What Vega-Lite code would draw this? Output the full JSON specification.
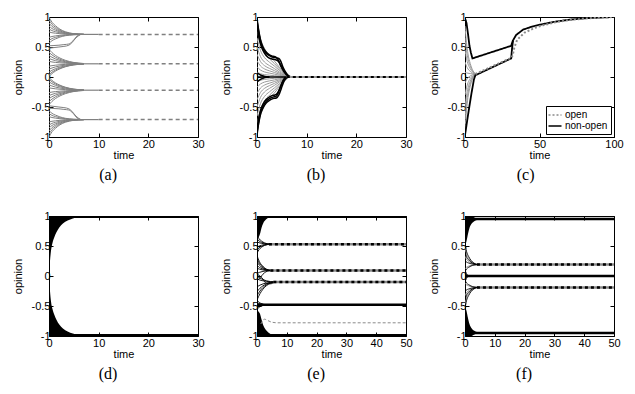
{
"$schema":"https://vega.github.io/schema/vega-lite/v6.json",
"autosize":{"type":"pad"},
"padding":{"left":11,"top":10,"right":0,"bottom":0},
"background":"white",
"config":{
 "view":{"stroke":"#000","strokeWidth":1},
 "font":"Liberation Sans",
 "axis":{"domain":false,"grid":false,"ticks":true,"tickColor":"#000","tickSize":-4,"tickWidth":1,"labelFlush":false,"labelOverlap":false,"labelFont":"Liberation Sans","labelFontSize":11,"labelColor":"#000","titleFont":"Liberation Sans","titleFontSize":11,"titleFontWeight":"normal","titleColor":"#000"},
 "axisX":{"labelPadding":5,"titlePadding":0},
 "axisY":{"labelPadding":3,"titlePadding":8},
 "title":{"font":"Liberation Serif","fontSize":16,"fontWeight":"normal","color":"#000","offset":7,"frame":"bounds"},
 "legend":{"orient":"bottom-right","offset":3,"fillColor":"#fff","strokeColor":"#000","padding":3,"cornerRadius":0,"labelFont":"Liberation Sans","labelFontSize":10,"labelColor":"#000","symbolType":"M-1.3,0H1.3","symbolSize":100,"symbolStrokeWidth":1.5,"rowPadding":0,"labelOffset":4}
},
"datasets":{
"a1":[
{"i":1,"t":0,"y":1},{"i":1,"t":0.6,"y":0.913},{"i":1,"t":1.3,"y":0.855},{"i":1,"t":2.2,"y":0.797},{"i":1,"t":3.3,"y":0.754},{"i":1,"t":5,"y":0.722},{"i":1,"t":7,"y":0.71},
{"i":2,"t":0,"y":0.95},{"i":2,"t":0.6,"y":0.878},{"i":2,"t":1.3,"y":0.83},{"i":2,"t":2.2,"y":0.782},{"i":2,"t":3.3,"y":0.746},{"i":2,"t":5,"y":0.72},{"i":2,"t":7,"y":0.71},
{"i":3,"t":0,"y":0.9},{"i":3,"t":0.6,"y":0.843},{"i":3,"t":1.3,"y":0.805},{"i":3,"t":2.2,"y":0.767},{"i":3,"t":3.3,"y":0.739},{"i":3,"t":5,"y":0.718},{"i":3,"t":7,"y":0.71},
{"i":4,"t":0,"y":0.85},{"i":4,"t":0.6,"y":0.808},{"i":4,"t":1.3,"y":0.78},{"i":4,"t":2.2,"y":0.752},{"i":4,"t":3.3,"y":0.731},{"i":4,"t":5,"y":0.716},{"i":4,"t":7,"y":0.71},
{"i":5,"t":0,"y":0.8},{"i":5,"t":0.6,"y":0.773},{"i":5,"t":1.3,"y":0.755},{"i":5,"t":2.2,"y":0.737},{"i":5,"t":3.3,"y":0.724},{"i":5,"t":5,"y":0.714},{"i":5,"t":7,"y":0.71},
{"i":6,"t":0,"y":0.75},{"i":6,"t":0.6,"y":0.738},{"i":6,"t":1.3,"y":0.73},{"i":6,"t":2.2,"y":0.722},{"i":6,"t":3.3,"y":0.716},{"i":6,"t":5,"y":0.712},{"i":6,"t":7,"y":0.71},
{"i":7,"t":0,"y":0.66},{"i":7,"t":0.6,"y":0.675},{"i":7,"t":1.3,"y":0.685},{"i":7,"t":2.2,"y":0.695},{"i":7,"t":3.3,"y":0.703},{"i":7,"t":5,"y":0.708},{"i":7,"t":7,"y":0.71},
{"i":8,"t":0,"y":0.61},{"i":8,"t":0.6,"y":0.64},{"i":8,"t":1.3,"y":0.66},{"i":8,"t":2.2,"y":0.68},{"i":8,"t":3.3,"y":0.695},{"i":8,"t":5,"y":0.706},{"i":8,"t":7,"y":0.71},
{"i":9,"t":0,"y":0.56},{"i":9,"t":0.6,"y":0.605},{"i":9,"t":1.3,"y":0.635},{"i":9,"t":2.2,"y":0.665},{"i":9,"t":3.3,"y":0.688},{"i":9,"t":5,"y":0.704},{"i":9,"t":7,"y":0.71},
{"i":10,"t":0,"y":0.52},{"i":10,"t":1,"y":0.525},{"i":10,"t":2,"y":0.53},{"i":10,"t":3,"y":0.54},{"i":10,"t":4,"y":0.55},{"i":10,"t":4.8,"y":0.6},{"i":10,"t":5.6,"y":0.68},{"i":10,"t":6.5,"y":0.71},
{"i":11,"t":0,"y":0.48},{"i":11,"t":1,"y":0.49},{"i":11,"t":2,"y":0.5},{"i":11,"t":3,"y":0.51},{"i":11,"t":4,"y":0.53},{"i":11,"t":4.6,"y":0.57},{"i":11,"t":5.4,"y":0.65},{"i":11,"t":6.4,"y":0.71},
{"i":12,"t":0,"y":0.46},{"i":12,"t":0.6,"y":0.407},{"i":12,"t":1.3,"y":0.359},{"i":12,"t":2.2,"y":0.316},{"i":12,"t":3.3,"y":0.278},{"i":12,"t":5,"y":0.242},{"i":12,"t":7,"y":0.225},
{"i":13,"t":0,"y":0.41},{"i":13,"t":0.6,"y":0.368},{"i":13,"t":1.3,"y":0.33},{"i":13,"t":2.2,"y":0.296},{"i":13,"t":3.3,"y":0.266},{"i":13,"t":5,"y":0.237},{"i":13,"t":7,"y":0.224},
{"i":14,"t":0,"y":0.36},{"i":14,"t":0.6,"y":0.329},{"i":14,"t":1.3,"y":0.301},{"i":14,"t":2.2,"y":0.276},{"i":14,"t":3.3,"y":0.254},{"i":14,"t":5,"y":0.233},{"i":14,"t":7,"y":0.223},
{"i":15,"t":0,"y":0.31},{"i":15,"t":0.6,"y":0.29},{"i":15,"t":1.3,"y":0.272},{"i":15,"t":2.2,"y":0.256},{"i":15,"t":3.3,"y":0.242},{"i":15,"t":5,"y":0.228},{"i":15,"t":7,"y":0.222},
{"i":16,"t":0,"y":0.26},{"i":16,"t":0.6,"y":0.251},{"i":16,"t":1.3,"y":0.243},{"i":16,"t":2.2,"y":0.236},{"i":16,"t":3.3,"y":0.23},{"i":16,"t":5,"y":0.224},{"i":16,"t":7,"y":0.221},
{"i":17,"t":0,"y":0.18},{"i":17,"t":0.6,"y":0.189},{"i":17,"t":1.3,"y":0.197},{"i":17,"t":2.2,"y":0.204},{"i":17,"t":3.3,"y":0.21},{"i":17,"t":5,"y":0.216},{"i":17,"t":7,"y":0.219},
{"i":18,"t":0,"y":0.13},{"i":18,"t":0.6,"y":0.15},{"i":18,"t":1.3,"y":0.168},{"i":18,"t":2.2,"y":0.184},{"i":18,"t":3.3,"y":0.198},{"i":18,"t":5,"y":0.212},{"i":18,"t":7,"y":0.218},
{"i":19,"t":0,"y":0.08},{"i":19,"t":0.6,"y":0.111},{"i":19,"t":1.3,"y":0.139},{"i":19,"t":2.2,"y":0.164},{"i":19,"t":3.3,"y":0.186},{"i":19,"t":5,"y":0.207},{"i":19,"t":7,"y":0.217},
{"i":20,"t":0,"y":0.04},{"i":20,"t":0.6,"y":0.08},{"i":20,"t":1.3,"y":0.116},{"i":20,"t":2.2,"y":0.148},{"i":20,"t":3.3,"y":0.177},{"i":20,"t":5,"y":0.204},{"i":20,"t":7,"y":0.216},
{"i":21,"t":0,"y":0.01},{"i":21,"t":0.6,"y":0.056},{"i":21,"t":1.3,"y":0.098},{"i":21,"t":2.2,"y":0.136},{"i":21,"t":3.3,"y":0.17},{"i":21,"t":5,"y":0.201},{"i":21,"t":7,"y":0.216},
{"i":51,"t":0,"y":-1},{"i":51,"t":0.6,"y":-0.913},{"i":51,"t":1.3,"y":-0.855},{"i":51,"t":2.2,"y":-0.797},{"i":51,"t":3.3,"y":-0.754},{"i":51,"t":5,"y":-0.722},{"i":51,"t":7,"y":-0.71},
{"i":52,"t":0,"y":-0.95},{"i":52,"t":0.6,"y":-0.878},{"i":52,"t":1.3,"y":-0.83},{"i":52,"t":2.2,"y":-0.782},{"i":52,"t":3.3,"y":-0.746},{"i":52,"t":5,"y":-0.72},{"i":52,"t":7,"y":-0.71},
{"i":53,"t":0,"y":-0.9},{"i":53,"t":0.6,"y":-0.843},{"i":53,"t":1.3,"y":-0.805},{"i":53,"t":2.2,"y":-0.767},{"i":53,"t":3.3,"y":-0.739},{"i":53,"t":5,"y":-0.718},{"i":53,"t":7,"y":-0.71},
{"i":54,"t":0,"y":-0.85},{"i":54,"t":0.6,"y":-0.808},{"i":54,"t":1.3,"y":-0.78},{"i":54,"t":2.2,"y":-0.752},{"i":54,"t":3.3,"y":-0.731},{"i":54,"t":5,"y":-0.716},{"i":54,"t":7,"y":-0.71},
{"i":55,"t":0,"y":-0.8},{"i":55,"t":0.6,"y":-0.773},{"i":55,"t":1.3,"y":-0.755},{"i":55,"t":2.2,"y":-0.737},{"i":55,"t":3.3,"y":-0.724},{"i":55,"t":5,"y":-0.714},{"i":55,"t":7,"y":-0.71},
{"i":56,"t":0,"y":-0.75},{"i":56,"t":0.6,"y":-0.738},{"i":56,"t":1.3,"y":-0.73},{"i":56,"t":2.2,"y":-0.722},{"i":56,"t":3.3,"y":-0.716},{"i":56,"t":5,"y":-0.712},{"i":56,"t":7,"y":-0.71},
{"i":57,"t":0,"y":-0.66},{"i":57,"t":0.6,"y":-0.675},{"i":57,"t":1.3,"y":-0.685},{"i":57,"t":2.2,"y":-0.695},{"i":57,"t":3.3,"y":-0.703},{"i":57,"t":5,"y":-0.708},{"i":57,"t":7,"y":-0.71},
{"i":58,"t":0,"y":-0.61},{"i":58,"t":0.6,"y":-0.64},{"i":58,"t":1.3,"y":-0.66},{"i":58,"t":2.2,"y":-0.68},{"i":58,"t":3.3,"y":-0.695},{"i":58,"t":5,"y":-0.706},{"i":58,"t":7,"y":-0.71},
{"i":59,"t":0,"y":-0.56},{"i":59,"t":0.6,"y":-0.605},{"i":59,"t":1.3,"y":-0.635},{"i":59,"t":2.2,"y":-0.665},{"i":59,"t":3.3,"y":-0.688},{"i":59,"t":5,"y":-0.704},{"i":59,"t":7,"y":-0.71},
{"i":60,"t":0,"y":-0.52},{"i":60,"t":1,"y":-0.525},{"i":60,"t":2,"y":-0.53},{"i":60,"t":3,"y":-0.54},{"i":60,"t":4,"y":-0.55},{"i":60,"t":4.8,"y":-0.6},{"i":60,"t":5.6,"y":-0.68},{"i":60,"t":6.5,"y":-0.71},
{"i":61,"t":0,"y":-0.48},{"i":61,"t":1,"y":-0.49},{"i":61,"t":2,"y":-0.5},{"i":61,"t":3,"y":-0.51},{"i":61,"t":4,"y":-0.53},{"i":61,"t":4.6,"y":-0.57},{"i":61,"t":5.4,"y":-0.65},{"i":61,"t":6.4,"y":-0.71},
{"i":62,"t":0,"y":-0.46},{"i":62,"t":0.6,"y":-0.407},{"i":62,"t":1.3,"y":-0.359},{"i":62,"t":2.2,"y":-0.316},{"i":62,"t":3.3,"y":-0.278},{"i":62,"t":5,"y":-0.242},{"i":62,"t":7,"y":-0.225},
{"i":63,"t":0,"y":-0.41},{"i":63,"t":0.6,"y":-0.368},{"i":63,"t":1.3,"y":-0.33},{"i":63,"t":2.2,"y":-0.296},{"i":63,"t":3.3,"y":-0.266},{"i":63,"t":5,"y":-0.237},{"i":63,"t":7,"y":-0.224},
{"i":64,"t":0,"y":-0.36},{"i":64,"t":0.6,"y":-0.329},{"i":64,"t":1.3,"y":-0.301},{"i":64,"t":2.2,"y":-0.276},{"i":64,"t":3.3,"y":-0.254},{"i":64,"t":5,"y":-0.233},{"i":64,"t":7,"y":-0.223},
{"i":65,"t":0,"y":-0.31},{"i":65,"t":0.6,"y":-0.29},{"i":65,"t":1.3,"y":-0.272},{"i":65,"t":2.2,"y":-0.256},{"i":65,"t":3.3,"y":-0.242},{"i":65,"t":5,"y":-0.228},{"i":65,"t":7,"y":-0.222},
{"i":66,"t":0,"y":-0.26},{"i":66,"t":0.6,"y":-0.251},{"i":66,"t":1.3,"y":-0.243},{"i":66,"t":2.2,"y":-0.236},{"i":66,"t":3.3,"y":-0.23},{"i":66,"t":5,"y":-0.224},{"i":66,"t":7,"y":-0.221},
{"i":67,"t":0,"y":-0.18},{"i":67,"t":0.6,"y":-0.189},{"i":67,"t":1.3,"y":-0.197},{"i":67,"t":2.2,"y":-0.204},{"i":67,"t":3.3,"y":-0.21},{"i":67,"t":5,"y":-0.216},{"i":67,"t":7,"y":-0.219},
{"i":68,"t":0,"y":-0.13},{"i":68,"t":0.6,"y":-0.15},{"i":68,"t":1.3,"y":-0.168},{"i":68,"t":2.2,"y":-0.184},{"i":68,"t":3.3,"y":-0.198},{"i":68,"t":5,"y":-0.212},{"i":68,"t":7,"y":-0.218},
{"i":69,"t":0,"y":-0.08},{"i":69,"t":0.6,"y":-0.111},{"i":69,"t":1.3,"y":-0.139},{"i":69,"t":2.2,"y":-0.164},{"i":69,"t":3.3,"y":-0.186},{"i":69,"t":5,"y":-0.207},{"i":69,"t":7,"y":-0.217},
{"i":70,"t":0,"y":-0.04},{"i":70,"t":0.6,"y":-0.08},{"i":70,"t":1.3,"y":-0.116},{"i":70,"t":2.2,"y":-0.148},{"i":70,"t":3.3,"y":-0.177},{"i":70,"t":5,"y":-0.204},{"i":70,"t":7,"y":-0.216},
{"i":71,"t":0,"y":-0.01},{"i":71,"t":0.6,"y":-0.056},{"i":71,"t":1.3,"y":-0.098},{"i":71,"t":2.2,"y":-0.136},{"i":71,"t":3.3,"y":-0.17},{"i":71,"t":5,"y":-0.201},{"i":71,"t":7,"y":-0.216}
],
"a2":[
{"i":1,"t":5,"y":0.71},{"i":1,"t":10,"y":0.71},{"i":2,"t":7,"y":0.22},{"i":2,"t":10,"y":0.22},{"i":3,"t":7,"y":-0.22},{"i":3,"t":10,"y":-0.22},{"i":4,"t":5,"y":-0.71},{"i":4,"t":10,"y":-0.71}
],
"a3":[
{"i":1,"t":10,"y":0.71},{"i":1,"t":30,"y":0.71},{"i":2,"t":10,"y":0.22},{"i":2,"t":30,"y":0.22},{"i":3,"t":10,"y":-0.22},{"i":3,"t":30,"y":-0.22},{"i":4,"t":10,"y":-0.71},{"i":4,"t":30,"y":-0.71}
],
"b1":[
{"i":1,"t":0,"y":0.95},{"i":1,"t":0.7,"y":0.646},{"i":1,"t":1.5,"y":0.475},{"i":1,"t":2.5,"y":0.361},{"i":1,"t":3.5,"y":0.266},{"i":1,"t":4.5,"y":0.162},{"i":1,"t":5.5,"y":0.067},{"i":1,"t":6.5,"y":0},
{"i":2,"t":0,"y":0.8},{"i":2,"t":0.7,"y":0.544},{"i":2,"t":1.5,"y":0.4},{"i":2,"t":2.5,"y":0.304},{"i":2,"t":3.5,"y":0.224},{"i":2,"t":4.5,"y":0.136},{"i":2,"t":5.5,"y":0.056},{"i":2,"t":6.5,"y":0},
{"i":3,"t":0,"y":0.65},{"i":3,"t":0.7,"y":0.442},{"i":3,"t":1.5,"y":0.325},{"i":3,"t":2.5,"y":0.247},{"i":3,"t":3.5,"y":0.182},{"i":3,"t":4.5,"y":0.111},{"i":3,"t":5.5,"y":0.046},{"i":3,"t":6.5,"y":0},
{"i":4,"t":0,"y":0.5},{"i":4,"t":0.7,"y":0.34},{"i":4,"t":1.5,"y":0.25},{"i":4,"t":2.5,"y":0.19},{"i":4,"t":3.5,"y":0.14},{"i":4,"t":4.5,"y":0.085},{"i":4,"t":5.5,"y":0.035},{"i":4,"t":6.5,"y":0},
{"i":5,"t":0,"y":0.38},{"i":5,"t":0.7,"y":0.258},{"i":5,"t":1.5,"y":0.19},{"i":5,"t":2.5,"y":0.144},{"i":5,"t":3.5,"y":0.106},{"i":5,"t":4.5,"y":0.065},{"i":5,"t":5.5,"y":0.027},{"i":5,"t":6.5,"y":0},
{"i":6,"t":0,"y":0.27},{"i":6,"t":0.7,"y":0.184},{"i":6,"t":1.5,"y":0.135},{"i":6,"t":2.5,"y":0.103},{"i":6,"t":3.5,"y":0.076},{"i":6,"t":4.5,"y":0.046},{"i":6,"t":5.5,"y":0.019},{"i":6,"t":6.5,"y":0},
{"i":7,"t":0,"y":0.17},{"i":7,"t":0.7,"y":0.116},{"i":7,"t":1.5,"y":0.085},{"i":7,"t":2.5,"y":0.065},{"i":7,"t":3.5,"y":0.048},{"i":7,"t":4.5,"y":0.029},{"i":7,"t":5.5,"y":0.012},{"i":7,"t":6.5,"y":0},
{"i":8,"t":0,"y":0.08},{"i":8,"t":0.7,"y":0.054},{"i":8,"t":1.5,"y":0.04},{"i":8,"t":2.5,"y":0.03},{"i":8,"t":3.5,"y":0.022},{"i":8,"t":4.5,"y":0.014},{"i":8,"t":5.5,"y":0.006},{"i":8,"t":6.5,"y":0},
{"i":11,"t":0,"y":-0.95},{"i":11,"t":0.7,"y":-0.646},{"i":11,"t":1.5,"y":-0.475},{"i":11,"t":2.5,"y":-0.361},{"i":11,"t":3.5,"y":-0.266},{"i":11,"t":4.5,"y":-0.162},{"i":11,"t":5.5,"y":-0.067},{"i":11,"t":6.5,"y":0},
{"i":12,"t":0,"y":-0.8},{"i":12,"t":0.7,"y":-0.544},{"i":12,"t":1.5,"y":-0.4},{"i":12,"t":2.5,"y":-0.304},{"i":12,"t":3.5,"y":-0.224},{"i":12,"t":4.5,"y":-0.136},{"i":12,"t":5.5,"y":-0.056},{"i":12,"t":6.5,"y":0},
{"i":13,"t":0,"y":-0.65},{"i":13,"t":0.7,"y":-0.442},{"i":13,"t":1.5,"y":-0.325},{"i":13,"t":2.5,"y":-0.247},{"i":13,"t":3.5,"y":-0.182},{"i":13,"t":4.5,"y":-0.111},{"i":13,"t":5.5,"y":-0.046},{"i":13,"t":6.5,"y":0},
{"i":14,"t":0,"y":-0.5},{"i":14,"t":0.7,"y":-0.34},{"i":14,"t":1.5,"y":-0.25},{"i":14,"t":2.5,"y":-0.19},{"i":14,"t":3.5,"y":-0.14},{"i":14,"t":4.5,"y":-0.085},{"i":14,"t":5.5,"y":-0.035},{"i":14,"t":6.5,"y":0},
{"i":15,"t":0,"y":-0.38},{"i":15,"t":0.7,"y":-0.258},{"i":15,"t":1.5,"y":-0.19},{"i":15,"t":2.5,"y":-0.144},{"i":15,"t":3.5,"y":-0.106},{"i":15,"t":4.5,"y":-0.065},{"i":15,"t":5.5,"y":-0.027},{"i":15,"t":6.5,"y":0},
{"i":16,"t":0,"y":-0.27},{"i":16,"t":0.7,"y":-0.184},{"i":16,"t":1.5,"y":-0.135},{"i":16,"t":2.5,"y":-0.103},{"i":16,"t":3.5,"y":-0.076},{"i":16,"t":4.5,"y":-0.046},{"i":16,"t":5.5,"y":-0.019},{"i":16,"t":6.5,"y":0},
{"i":17,"t":0,"y":-0.17},{"i":17,"t":0.7,"y":-0.116},{"i":17,"t":1.5,"y":-0.085},{"i":17,"t":2.5,"y":-0.065},{"i":17,"t":3.5,"y":-0.048},{"i":17,"t":4.5,"y":-0.029},{"i":17,"t":5.5,"y":-0.012},{"i":17,"t":6.5,"y":0},
{"i":18,"t":0,"y":-0.08},{"i":18,"t":0.7,"y":-0.054},{"i":18,"t":1.5,"y":-0.04},{"i":18,"t":2.5,"y":-0.03},{"i":18,"t":3.5,"y":-0.022},{"i":18,"t":4.5,"y":-0.014},{"i":18,"t":5.5,"y":-0.006},{"i":18,"t":6.5,"y":0}
],
"b2":[
{"i":1,"t":0,"y":0.97},{"i":1,"t":0.3,"y":0.8},{"i":1,"t":0.7,"y":0.62},{"i":1,"t":1.2,"y":0.5},{"i":1,"t":1.8,"y":0.42},{"i":1,"t":2.5,"y":0.37},{"i":1,"t":3.2,"y":0.345},{"i":1,"t":3.8,"y":0.33},{"i":1,"t":4.3,"y":0.28},{"i":1,"t":4.8,"y":0.18},{"i":1,"t":5.4,"y":0.09},{"i":1,"t":6.2,"y":0.02},{"i":1,"t":7,"y":0},
{"i":2,"t":0,"y":0.94},{"i":2,"t":0.3,"y":0.77},{"i":2,"t":0.7,"y":0.6},{"i":2,"t":1.2,"y":0.48},{"i":2,"t":1.8,"y":0.4},{"i":2,"t":2.5,"y":0.355},{"i":2,"t":3.2,"y":0.33},{"i":2,"t":3.8,"y":0.32},{"i":2,"t":4.4,"y":0.31},{"i":2,"t":4.8,"y":0.26},{"i":2,"t":5.2,"y":0.17},{"i":2,"t":5.7,"y":0.09},{"i":2,"t":6.4,"y":0.02},{"i":2,"t":7.2,"y":0},
{"i":3,"t":0,"y":0.85},{"i":3,"t":0.4,"y":0.65},{"i":3,"t":0.9,"y":0.5},{"i":3,"t":1.5,"y":0.4},{"i":3,"t":2.2,"y":0.33},{"i":3,"t":3,"y":0.3},{"i":3,"t":3.6,"y":0.29},{"i":3,"t":4.2,"y":0.27},{"i":3,"t":4.8,"y":0.2},{"i":3,"t":5.3,"y":0.12},{"i":3,"t":5.9,"y":0.05},{"i":3,"t":6.6,"y":0},
{"i":4,"t":0,"y":0.07},{"i":4,"t":0.8,"y":0.03},{"i":4,"t":1.6,"y":0.01},{"i":4,"t":2.5,"y":0},
{"i":5,"t":0,"y":-0.08},{"i":5,"t":0.8,"y":-0.035},{"i":5,"t":1.6,"y":-0.01},{"i":5,"t":2.5,"y":0},
{"i":6,"t":0,"y":0},{"i":6,"t":6,"y":0},
{"i":7,"t":0,"y":-0.97},{"i":7,"t":0.3,"y":-0.79},{"i":7,"t":0.7,"y":-0.62},{"i":7,"t":1.2,"y":-0.52},{"i":7,"t":1.8,"y":-0.44},{"i":7,"t":2.5,"y":-0.39},{"i":7,"t":3.2,"y":-0.36},{"i":7,"t":3.9,"y":-0.35},{"i":7,"t":4.4,"y":-0.3},{"i":7,"t":4.9,"y":-0.19},{"i":7,"t":5.4,"y":-0.08},{"i":7,"t":6.1,"y":0},
{"i":8,"t":0,"y":-0.93},{"i":8,"t":0.3,"y":-0.75},{"i":8,"t":0.7,"y":-0.59},{"i":8,"t":1.2,"y":-0.49},{"i":8,"t":1.8,"y":-0.41},{"i":8,"t":2.5,"y":-0.36},{"i":8,"t":3.2,"y":-0.335},{"i":8,"t":3.8,"y":-0.325},{"i":8,"t":4.2,"y":-0.28},{"i":8,"t":4.7,"y":-0.17},{"i":8,"t":5.2,"y":-0.07},{"i":8,"t":5.9,"y":0},
{"i":9,"t":0,"y":-0.86},{"i":9,"t":0.4,"y":-0.66},{"i":9,"t":0.9,"y":-0.51},{"i":9,"t":1.5,"y":-0.41},{"i":9,"t":2.2,"y":-0.35},{"i":9,"t":3,"y":-0.31},{"i":9,"t":3.6,"y":-0.3},{"i":9,"t":4.1,"y":-0.27},{"i":9,"t":4.6,"y":-0.19},{"i":9,"t":5.1,"y":-0.09},{"i":9,"t":5.7,"y":0}
],
"b3":[{"t":6,"y":0},{"t":30,"y":0}],
"c1":[
{"i":1,"t":0,"y":0.85},{"i":1,"t":1,"y":0.57},{"i":1,"t":2,"y":0.386},{"i":1,"t":3.5,"y":0.226},{"i":1,"t":5,"y":0.122},{"i":1,"t":7,"y":0.05},
{"i":2,"t":0,"y":0.65},{"i":2,"t":1,"y":0.44},{"i":2,"t":2,"y":0.302},{"i":2,"t":3.5,"y":0.182},{"i":2,"t":5,"y":0.104},{"i":2,"t":7,"y":0.05},
{"i":3,"t":0,"y":0.45},{"i":3,"t":1,"y":0.31},{"i":3,"t":2,"y":0.218},{"i":3,"t":3.5,"y":0.138},{"i":3,"t":5,"y":0.086},{"i":3,"t":7,"y":0.05},
{"i":4,"t":0,"y":0.25},{"i":4,"t":1,"y":0.18},{"i":4,"t":2,"y":0.134},{"i":4,"t":3.5,"y":0.094},{"i":4,"t":5,"y":0.068},{"i":4,"t":7,"y":0.05},
{"i":5,"t":0,"y":0.08},{"i":5,"t":1,"y":0.07},{"i":5,"t":2,"y":0.063},{"i":5,"t":3.5,"y":0.057},{"i":5,"t":5,"y":0.053},{"i":5,"t":7,"y":0.05},
{"i":6,"t":0,"y":-0.1},{"i":6,"t":1,"y":-0.048},{"i":6,"t":2,"y":-0.013},{"i":6,"t":3.5,"y":0.017},{"i":6,"t":5,"y":0.037},{"i":6,"t":7,"y":0.05},
{"i":7,"t":0,"y":-0.3},{"i":7,"t":1,"y":-0.178},{"i":7,"t":2,"y":-0.097},{"i":7,"t":3.5,"y":-0.027},{"i":7,"t":5,"y":0.019},{"i":7,"t":7,"y":0.05},
{"i":8,"t":0,"y":-0.5},{"i":8,"t":1,"y":-0.308},{"i":8,"t":2,"y":-0.181},{"i":8,"t":3.5,"y":-0.071},{"i":8,"t":5,"y":0.001},{"i":8,"t":7,"y":0.05},
{"i":9,"t":0,"y":-0.7},{"i":9,"t":1,"y":-0.438},{"i":9,"t":2,"y":-0.265},{"i":9,"t":3.5,"y":-0.115},{"i":9,"t":5,"y":-0.018},{"i":9,"t":7,"y":0.05},
{"i":10,"t":0,"y":-0.88},{"i":10,"t":1,"y":-0.555},{"i":10,"t":2,"y":-0.341},{"i":10,"t":3.5,"y":-0.155},{"i":10,"t":5,"y":-0.034},{"i":10,"t":7,"y":0.05}
],
"c2":[
{"k":"non-open","i":1,"t":0,"y":0.98},{"k":"non-open","i":1,"t":1,"y":0.9},{"k":"non-open","i":1,"t":2,"y":0.72},{"k":"non-open","i":1,"t":3,"y":0.52},{"k":"non-open","i":1,"t":4,"y":0.4},{"k":"non-open","i":1,"t":5,"y":0.31},{"k":"non-open","i":1,"t":31,"y":0.52},{"k":"non-open","i":1,"t":32,"y":0.6},{"k":"non-open","i":1,"t":34.3,"y":0.7},{"k":"non-open","i":1,"t":39,"y":0.79},{"k":"non-open","i":1,"t":45.6,"y":0.845},{"k":"non-open","i":1,"t":51,"y":0.875},{"k":"non-open","i":1,"t":60,"y":0.92},{"k":"non-open","i":1,"t":70,"y":0.955},{"k":"non-open","i":1,"t":80,"y":0.978},{"k":"non-open","i":1,"t":90,"y":0.99},{"k":"non-open","i":1,"t":100,"y":1},
{"k":"non-open","i":2,"t":0,"y":-0.97},{"k":"non-open","i":2,"t":1.5,"y":-0.72},{"k":"non-open","i":2,"t":3,"y":-0.48},{"k":"non-open","i":2,"t":4.5,"y":-0.25},{"k":"non-open","i":2,"t":6,"y":-0.04},{"k":"non-open","i":2,"t":7,"y":0.03},{"k":"non-open","i":2,"t":31,"y":0.31},{"k":"non-open","i":2,"t":31.6,"y":0.48},{"k":"non-open","i":2,"t":32.2,"y":0.6}
],
"c3":[
{"k":"open","i":1,"t":7,"y":0.05},{"k":"open","i":1,"t":31,"y":0.32},{"k":"open","i":1,"t":32,"y":0.36},{"k":"open","i":1,"t":33,"y":0.48},{"k":"open","i":1,"t":35,"y":0.62},{"k":"open","i":1,"t":40,"y":0.74},{"k":"open","i":1,"t":47,"y":0.82},{"k":"open","i":1,"t":52,"y":0.86},{"k":"open","i":1,"t":60,"y":0.91},{"k":"open","i":1,"t":70,"y":0.95},{"k":"open","i":1,"t":80,"y":0.975},{"k":"open","i":1,"t":90,"y":0.99},{"k":"open","i":1,"t":100,"y":1}
],
"d1":[
{"g":1,"t":0,"y":0,"y2":1},{"g":1,"t":0.2,"y":0.25,"y2":1},{"g":1,"t":0.4,"y":0.42,"y2":1},{"g":1,"t":0.7,"y":0.55,"y2":1},{"g":1,"t":1.07,"y":0.645,"y2":1},{"g":1,"t":1.5,"y":0.73,"y2":1},{"g":1,"t":2.07,"y":0.81,"y2":1},{"g":1,"t":2.8,"y":0.875,"y2":1},{"g":1,"t":3.75,"y":0.925,"y2":1},{"g":1,"t":4.8,"y":0.96,"y2":1},{"g":1,"t":5.8,"y":0.98,"y2":1},{"g":1,"t":7,"y":0.995,"y2":1},{"g":1,"t":8.5,"y":1,"y2":1},
{"g":2,"t":0,"y":0,"y2":-1},{"g":2,"t":0.2,"y":-0.25,"y2":-1},{"g":2,"t":0.4,"y":-0.42,"y2":-1},{"g":2,"t":0.7,"y":-0.55,"y2":-1},{"g":2,"t":1.07,"y":-0.645,"y2":-1},{"g":2,"t":1.5,"y":-0.73,"y2":-1},{"g":2,"t":2.07,"y":-0.81,"y2":-1},{"g":2,"t":2.8,"y":-0.875,"y2":-1},{"g":2,"t":3.75,"y":-0.925,"y2":-1},{"g":2,"t":4.8,"y":-0.96,"y2":-1},{"g":2,"t":5.8,"y":-0.98,"y2":-1},{"g":2,"t":7,"y":-0.995,"y2":-1},{"g":2,"t":8.5,"y":-1,"y2":-1}
],
"d2":[{"i":1,"t":0,"y":1},{"i":1,"t":30,"y":1},{"i":2,"t":0,"y":-1},{"i":2,"t":30,"y":-1}],
"e1":[
{"g":1,"t":0,"y":0.6,"y2":1},{"g":1,"t":0.5,"y":0.64,"y2":1},{"g":1,"t":1,"y":0.7,"y2":1},{"g":1,"t":1.5,"y":0.8,"y2":1},{"g":1,"t":2.1,"y":0.88,"y2":1},{"g":1,"t":3,"y":0.94,"y2":1},{"g":1,"t":3.8,"y":0.97,"y2":1},{"g":1,"t":5,"y":0.99,"y2":1},{"g":1,"t":6.6,"y":1,"y2":1},
{"g":2,"t":0,"y":-0.57,"y2":-1},{"g":2,"t":0.5,"y":-0.59,"y2":-1},{"g":2,"t":1,"y":-0.63,"y2":-1},{"g":2,"t":1.5,"y":-0.72,"y2":-1},{"g":2,"t":2.1,"y":-0.82,"y2":-1},{"g":2,"t":3,"y":-0.9,"y2":-1},{"g":2,"t":3.8,"y":-0.94,"y2":-1},{"g":2,"t":5,"y":-0.98,"y2":-1},{"g":2,"t":6.6,"y":-1,"y2":-1}
],
"e2":[
{"i":1,"t":0,"y":0.68},{"i":1,"t":0.7,"y":0.62},{"i":1,"t":1.5,"y":0.583},{"i":1,"t":2.5,"y":0.553},{"i":1,"t":3.5,"y":0.538},{"i":1,"t":4.5,"y":0.53},
{"i":2,"t":0,"y":0.62},{"i":2,"t":0.7,"y":0.584},{"i":2,"t":1.5,"y":0.562},{"i":2,"t":2.5,"y":0.544},{"i":2,"t":3.5,"y":0.535},{"i":2,"t":4.5,"y":0.53},
{"i":3,"t":0,"y":0.57},{"i":3,"t":0.7,"y":0.554},{"i":3,"t":1.5,"y":0.544},{"i":3,"t":2.5,"y":0.536},{"i":3,"t":3.5,"y":0.532},{"i":3,"t":4.5,"y":0.53},
{"i":4,"t":0,"y":0.48},{"i":4,"t":0.7,"y":0.5},{"i":4,"t":1.5,"y":0.513},{"i":4,"t":2.5,"y":0.523},{"i":4,"t":3.5,"y":0.528},{"i":4,"t":4.5,"y":0.53},
{"i":5,"t":0,"y":0.43},{"i":5,"t":0.7,"y":0.47},{"i":5,"t":1.5,"y":0.495},{"i":5,"t":2.5,"y":0.515},{"i":5,"t":3.5,"y":0.525},{"i":5,"t":4.5,"y":0.53},
{"i":6,"t":0,"y":0.38},{"i":6,"t":0.7,"y":0.44},{"i":6,"t":1.5,"y":0.478},{"i":6,"t":2.5,"y":0.508},{"i":6,"t":3.5,"y":0.523},{"i":6,"t":4.5,"y":0.53},
{"i":7,"t":0,"y":0.34},{"i":7,"t":0.8,"y":0.24},{"i":7,"t":1.7,"y":0.178},{"i":7,"t":2.7,"y":0.128},{"i":7,"t":3.8,"y":0.103},{"i":7,"t":5,"y":0.09},
{"i":8,"t":0,"y":0.29},{"i":8,"t":0.8,"y":0.21},{"i":8,"t":1.7,"y":0.16},{"i":8,"t":2.7,"y":0.12},{"i":8,"t":3.8,"y":0.1},{"i":8,"t":5,"y":0.09},
{"i":9,"t":0,"y":0.24},{"i":9,"t":0.8,"y":0.18},{"i":9,"t":1.7,"y":0.143},{"i":9,"t":2.7,"y":0.113},{"i":9,"t":3.8,"y":0.098},{"i":9,"t":5,"y":0.09},
{"i":10,"t":0,"y":0.18},{"i":10,"t":0.8,"y":0.144},{"i":10,"t":1.7,"y":0.122},{"i":10,"t":2.7,"y":0.104},{"i":10,"t":3.8,"y":0.095},{"i":10,"t":5,"y":0.09},
{"i":11,"t":0,"y":0.13},{"i":11,"t":0.8,"y":0.114},{"i":11,"t":1.7,"y":0.104},{"i":11,"t":2.7,"y":0.096},{"i":11,"t":3.8,"y":0.092},{"i":11,"t":5,"y":0.09},
{"i":12,"t":0,"y":0.04},{"i":12,"t":0.8,"y":0.06},{"i":12,"t":1.7,"y":0.073},{"i":12,"t":2.7,"y":0.083},{"i":12,"t":3.8,"y":0.088},{"i":12,"t":5,"y":0.09},
{"i":13,"t":0,"y":0},{"i":13,"t":1,"y":-0.035},{"i":13,"t":2,"y":-0.06},{"i":13,"t":3.2,"y":-0.08},{"i":13,"t":4.5,"y":-0.093},{"i":13,"t":6,"y":-0.1},
{"i":14,"t":0,"y":-0.05},{"i":14,"t":1,"y":-0.068},{"i":14,"t":2,"y":-0.08},{"i":14,"t":3.2,"y":-0.09},{"i":14,"t":4.5,"y":-0.097},{"i":14,"t":6,"y":-0.1},
{"i":15,"t":0,"y":-0.18},{"i":15,"t":1,"y":-0.152},{"i":15,"t":2,"y":-0.132},{"i":15,"t":3.2,"y":-0.116},{"i":15,"t":4.5,"y":-0.106},{"i":15,"t":6,"y":-0.1},
{"i":16,"t":0,"y":-0.26},{"i":16,"t":1,"y":-0.204},{"i":16,"t":2,"y":-0.164},{"i":16,"t":3.2,"y":-0.132},{"i":16,"t":4.5,"y":-0.111},{"i":16,"t":6,"y":-0.1},
{"i":17,"t":0,"y":-0.33},{"i":17,"t":1,"y":-0.25},{"i":17,"t":2,"y":-0.192},{"i":17,"t":3.2,"y":-0.146},{"i":17,"t":4.5,"y":-0.116},{"i":17,"t":6,"y":-0.1},
{"i":18,"t":0,"y":-0.4},{"i":18,"t":1,"y":-0.295},{"i":18,"t":2,"y":-0.22},{"i":18,"t":3.2,"y":-0.16},{"i":18,"t":4.5,"y":-0.121},{"i":18,"t":6,"y":-0.1},
{"i":19,"t":0,"y":0.03},{"i":19,"t":1,"y":0},{"i":19,"t":2,"y":-0.05},{"i":19,"t":3,"y":-0.12},{"i":19,"t":4.5,"y":-0.13},{"i":19,"t":6,"y":-0.1},
{"i":20,"t":0,"y":-0.08},{"i":20,"t":1,"y":-0.03},{"i":20,"t":2,"y":0.03},{"i":20,"t":3,"y":0.07},{"i":20,"t":4,"y":0.085},{"i":20,"t":5,"y":0.09},
{"i":21,"t":0,"y":-0.4},{"i":21,"t":0.6,"y":-0.436},{"i":21,"t":1.3,"y":-0.456},{"i":21,"t":2.2,"y":-0.472},{"i":21,"t":3.2,"y":-0.48},
{"i":22,"t":0,"y":-0.44},{"i":22,"t":0.6,"y":-0.458},{"i":22,"t":1.3,"y":-0.468},{"i":22,"t":2.2,"y":-0.476},{"i":22,"t":3.2,"y":-0.48},
{"i":23,"t":0,"y":-0.53},{"i":23,"t":0.6,"y":-0.508},{"i":23,"t":1.3,"y":-0.495},{"i":23,"t":2.2,"y":-0.485},{"i":23,"t":3.2,"y":-0.48},
{"i":24,"t":0,"y":-0.56},{"i":24,"t":0.6,"y":-0.524},{"i":24,"t":1.3,"y":-0.504},{"i":24,"t":2.2,"y":-0.488},{"i":24,"t":3.2,"y":-0.48}
],
"e3":[{"i":1,"t":0,"y":1},{"i":1,"t":50,"y":1},{"i":2,"t":0,"y":-1},{"i":2,"t":50,"y":-1}],
"e4":[{"i":1,"t":4,"y":0.53},{"i":1,"t":50,"y":0.53},{"i":2,"t":4.5,"y":0.09},{"i":2,"t":50,"y":0.09},{"i":3,"t":5.5,"y":-0.1},{"i":3,"t":50,"y":-0.1}],
"e5":[{"t":1.3,"y":-0.8},{"t":1.8,"y":-0.75},{"t":2.5,"y":-0.72},{"t":3.5,"y":-0.74},{"t":5,"y":-0.77},{"t":7,"y":-0.78},{"t":50,"y":-0.78}],
"e6":[{"t":0,"y":-0.48},{"t":50,"y":-0.48}],
"f1":[
{"g":1,"t":0,"y":0.5,"y2":1},{"g":1,"t":0.5,"y":0.58,"y2":1},{"g":1,"t":1,"y":0.7,"y2":1},{"g":1,"t":1.5,"y":0.8,"y2":1},{"g":1,"t":2.2,"y":0.87,"y2":1},{"g":1,"t":3,"y":0.91,"y2":0.98},{"g":1,"t":4,"y":0.935,"y2":0.96},{"g":1,"t":5.5,"y":0.95,"y2":0.95},
{"g":2,"t":0,"y":-0.5,"y2":-1},{"g":2,"t":0.5,"y":-0.58,"y2":-1},{"g":2,"t":1,"y":-0.7,"y2":-1},{"g":2,"t":1.5,"y":-0.8,"y2":-1},{"g":2,"t":2.2,"y":-0.87,"y2":-1},{"g":2,"t":3,"y":-0.91,"y2":-0.98},{"g":2,"t":4,"y":-0.935,"y2":-0.96},{"g":2,"t":5.5,"y":-0.95,"y2":-0.95}
],
"f2":[
{"i":1,"t":0,"y":0.55},{"i":1,"t":0.5,"y":0.413},{"i":1,"t":1.2,"y":0.327},{"i":1,"t":2,"y":0.262},{"i":1,"t":3,"y":0.215},{"i":1,"t":4.2,"y":0.19},
{"i":2,"t":0,"y":0.4},{"i":2,"t":0.5,"y":0.32},{"i":2,"t":1.2,"y":0.27},{"i":2,"t":2,"y":0.232},{"i":2,"t":3,"y":0.205},{"i":2,"t":4.2,"y":0.19},
{"i":3,"t":0,"y":0.26},{"i":3,"t":0.5,"y":0.233},{"i":3,"t":1.2,"y":0.217},{"i":3,"t":2,"y":0.204},{"i":3,"t":3,"y":0.195},{"i":3,"t":4.2,"y":0.19},
{"i":4,"t":0,"y":0.07},{"i":4,"t":0.5,"y":0.116},{"i":4,"t":1.2,"y":0.144},{"i":4,"t":2,"y":0.166},{"i":4,"t":3,"y":0.182},{"i":4,"t":4.2,"y":0.19},
{"i":5,"t":0,"y":-0.55},{"i":5,"t":0.5,"y":-0.413},{"i":5,"t":1.2,"y":-0.327},{"i":5,"t":2,"y":-0.262},{"i":5,"t":3,"y":-0.215},{"i":5,"t":4.2,"y":-0.19},
{"i":6,"t":0,"y":-0.4},{"i":6,"t":0.5,"y":-0.32},{"i":6,"t":1.2,"y":-0.27},{"i":6,"t":2,"y":-0.232},{"i":6,"t":3,"y":-0.205},{"i":6,"t":4.2,"y":-0.19},
{"i":7,"t":0,"y":-0.26},{"i":7,"t":0.5,"y":-0.233},{"i":7,"t":1.2,"y":-0.217},{"i":7,"t":2,"y":-0.204},{"i":7,"t":3,"y":-0.195},{"i":7,"t":4.2,"y":-0.19},
{"i":8,"t":0,"y":-0.07},{"i":8,"t":0.5,"y":-0.116},{"i":8,"t":1.2,"y":-0.144},{"i":8,"t":2,"y":-0.166},{"i":8,"t":3,"y":-0.182},{"i":8,"t":4.2,"y":-0.19},
{"i":9,"t":0,"y":0.05},{"i":9,"t":0.5,"y":0.02},{"i":9,"t":1.2,"y":0},
{"i":10,"t":0,"y":-0.05},{"i":10,"t":0.5,"y":-0.02},{"i":10,"t":1.2,"y":0},
{"i":11,"t":0,"y":0.1},{"i":11,"t":0.5,"y":0.04},{"i":11,"t":1.2,"y":0},
{"i":12,"t":0,"y":-0.1},{"i":12,"t":0.5,"y":-0.04},{"i":12,"t":1.2,"y":0}
],
"f3":[
{"i":1,"t":0,"y":0.47},{"i":1,"t":0.5,"y":0.364},{"i":1,"t":1.2,"y":0.296},{"i":1,"t":2,"y":0.246},{"i":1,"t":3,"y":0.21},{"i":1,"t":4.2,"y":0.19},
{"i":2,"t":0,"y":0.33},{"i":2,"t":0.5,"y":0.277},{"i":2,"t":1.2,"y":0.243},{"i":2,"t":2,"y":0.218},{"i":2,"t":3,"y":0.2},{"i":2,"t":4.2,"y":0.19},
{"i":3,"t":0,"y":0.12},{"i":3,"t":0.5,"y":0.147},{"i":3,"t":1.2,"y":0.163},{"i":3,"t":2,"y":0.176},{"i":3,"t":3,"y":0.185},{"i":3,"t":4.2,"y":0.19},
{"i":4,"t":0,"y":-0.47},{"i":4,"t":0.5,"y":-0.364},{"i":4,"t":1.2,"y":-0.296},{"i":4,"t":2,"y":-0.246},{"i":4,"t":3,"y":-0.21},{"i":4,"t":4.2,"y":-0.19},
{"i":5,"t":0,"y":-0.33},{"i":5,"t":0.5,"y":-0.277},{"i":5,"t":1.2,"y":-0.243},{"i":5,"t":2,"y":-0.218},{"i":5,"t":3,"y":-0.2},{"i":5,"t":4.2,"y":-0.19},
{"i":6,"t":0,"y":-0.12},{"i":6,"t":0.5,"y":-0.147},{"i":6,"t":1.2,"y":-0.163},{"i":6,"t":2,"y":-0.176},{"i":6,"t":3,"y":-0.185},{"i":6,"t":4.2,"y":-0.19}
],
"f4":[{"i":1,"t":0,"y":0.95},{"i":1,"t":50,"y":0.95},{"i":2,"t":0,"y":-0.95},{"i":2,"t":50,"y":-0.95},{"i":3,"t":0,"y":0},{"i":3,"t":50,"y":0}],
"f5":[{"i":1,"t":4,"y":0.19},{"i":1,"t":50,"y":0.19},{"i":2,"t":4,"y":-0.19},{"i":2,"t":50,"y":-0.19}]
},
"columns":3,
"spacing":{"row":79,"column":59},
"bounds":"flush",
"resolve":{"scale":{"color":"independent","strokeDash":"independent"},"legend":{"color":"independent","strokeDash":"independent"}},
"concat":[
 {"width":149,"height":120,"title":{"text":"(a)","orient":"bottom"},
  "encoding":{"x":{"field":"t","type":"quantitative","scale":{"domain":[0,30],"nice":false},"axis":null},"y":{"field":"y","type":"quantitative","scale":{"domain":[-1,1],"nice":false},"axis":null}},
  "layer":[
   {"data":{"name":"a1"},"mark":{"type":"line","color":"#808080","strokeWidth":1,"clip":true,"interpolate":"monotone"},
    "encoding":{"x":{"field":"t","type":"quantitative","scale":{"domain":[0,30],"nice":false},"axis":{"values":[0,10,20,30],"title":"time"}},
     "y":{"field":"y","type":"quantitative","scale":{"domain":[-1,1],"nice":false},"axis":{"values":[-1,-0.5,0,0.5,1],"title":"opinion","labelExpr":"''+datum.value"}},
     "detail":{"field":"i"}}},
   {"data":{"name":"a2"},"mark":{"type":"line","color":"#808080","strokeWidth":1.2,"clip":true},"encoding":{"detail":{"field":"i"}}},
   {"data":{"name":"a3"},"mark":{"type":"line","color":"#808080","strokeWidth":1.5,"strokeDash":[4,3],"clip":true},
    "encoding":{"x":{"field":"t","type":"quantitative","scale":{"domain":[0,30],"nice":false},"axis":{"orient":"top","values":[0,10,20,30],"labels":false,"title":null}},
     "y":{"field":"y","type":"quantitative","scale":{"domain":[-1,1],"nice":false},"axis":{"orient":"right","values":[-1,-0.5,0,0.5,1],"labels":false,"title":null}},
     "detail":{"field":"i"}}}
  ],
  "resolve":{"axis":{"x":"independent","y":"independent"}}},
 {"width":149,"height":120,"title":{"text":"(b)","orient":"bottom"},
  "encoding":{"x":{"field":"t","type":"quantitative","scale":{"domain":[0,30],"nice":false},"axis":null},"y":{"field":"y","type":"quantitative","scale":{"domain":[-1,1],"nice":false},"axis":null}},
  "layer":[
   {"data":{"name":"b1"},"mark":{"type":"line","color":"#9a9a9a","strokeWidth":1,"clip":true,"interpolate":"monotone"},
    "encoding":{"x":{"field":"t","type":"quantitative","scale":{"domain":[0,30],"nice":false},"axis":{"values":[0,10,20,30],"title":"time"}},
     "y":{"field":"y","type":"quantitative","scale":{"domain":[-1,1],"nice":false},"axis":{"values":[-1,-0.5,0,0.5,1],"title":"opinion","labelExpr":"''+datum.value"}},
     "detail":{"field":"i"}}},
   {"data":{"name":"b2"},"mark":{"type":"line","color":"#000","strokeWidth":1.5,"clip":true,"interpolate":"monotone"},"encoding":{"detail":{"field":"i"}}},
   {"data":{"name":"b3"},"mark":{"type":"line","color":"#9a9a9a","strokeWidth":2,"clip":true},"encoding":{}},
   {"data":{"name":"b3"},"mark":{"type":"line","color":"#000","strokeWidth":2,"strokeDash":[3,3],"clip":true},
    "encoding":{"x":{"field":"t","type":"quantitative","scale":{"domain":[0,30],"nice":false},"axis":{"orient":"top","values":[0,10,20,30],"labels":false,"title":null}},
     "y":{"field":"y","type":"quantitative","scale":{"domain":[-1,1],"nice":false},"axis":{"orient":"right","values":[-1,-0.5,0,0.5,1],"labels":false,"title":null}}}}
  ],
  "resolve":{"axis":{"x":"independent","y":"independent"}}},
 {"width":149,"height":120,"title":{"text":"(c)","orient":"bottom"},
  "encoding":{"x":{"field":"t","type":"quantitative","scale":{"domain":[0,100],"nice":false},"axis":null},"y":{"field":"y","type":"quantitative","scale":{"domain":[-1,1],"nice":false},"axis":null}},
  "layer":[
   {"data":{"name":"c1"},"mark":{"type":"line","color":"#9a9a9a","strokeWidth":1,"clip":true,"interpolate":"monotone"},
    "encoding":{"x":{"field":"t","type":"quantitative","scale":{"domain":[0,100],"nice":false},"axis":{"values":[0,50,100],"title":"time"}},
     "y":{"field":"y","type":"quantitative","scale":{"domain":[-1,1],"nice":false},"axis":{"values":[-1,-0.5,0,0.5,1],"title":"opinion","labelExpr":"''+datum.value"}},
     "detail":{"field":"i"}}},
   {"data":{"name":"c2"},"mark":{"type":"line","strokeWidth":1.8,"clip":true},
    "encoding":{"detail":{"field":"i"},
     "color":{"field":"k","type":"nominal","scale":{"domain":["open","non-open"],"range":["#8a8a8a","#000000"]},"legend":{"title":null,"orient":"bottom-right"}},
     "strokeDash":{"field":"k","type":"nominal","scale":{"domain":["open","non-open"],"range":[[2,2],[1,0]]},"legend":{"title":null,"orient":"bottom-right"}}}},
   {"data":{"name":"c3"},"mark":{"type":"line","strokeWidth":2,"clip":true},
    "encoding":{"x":{"field":"t","type":"quantitative","scale":{"domain":[0,100],"nice":false},"axis":{"orient":"top","values":[0,50,100],"labels":false,"title":null}},
     "y":{"field":"y","type":"quantitative","scale":{"domain":[-1,1],"nice":false},"axis":{"orient":"right","values":[-1,-0.5,0,0.5,1],"labels":false,"title":null}},
     "detail":{"field":"i"},
     "color":{"field":"k","type":"nominal","scale":{"domain":["open","non-open"],"range":["#8a8a8a","#000000"]},"legend":{"title":null,"orient":"bottom-right"}},
     "strokeDash":{"field":"k","type":"nominal","scale":{"domain":["open","non-open"],"range":[[2,2],[1,0]]},"legend":{"title":null,"orient":"bottom-right"}}}}
  ],
  "resolve":{"axis":{"x":"independent","y":"independent"}}},
 {"width":149,"height":120,"title":{"text":"(d)","orient":"bottom"},
  "encoding":{"x":{"field":"t","type":"quantitative","scale":{"domain":[0,30],"nice":false},"axis":null},"y":{"field":"y","type":"quantitative","scale":{"domain":[-1,1],"nice":false},"axis":null}},
  "layer":[
   {"data":{"name":"d1"},"mark":{"type":"area","color":"#000","clip":true,"interpolate":"monotone"},
    "encoding":{"x":{"field":"t","type":"quantitative","scale":{"domain":[0,30],"nice":false},"axis":{"values":[0,10,20,30],"title":"time"}},
     "y":{"field":"y","type":"quantitative","scale":{"domain":[-1,1],"nice":false},"axis":{"values":[-1,-0.5,0,0.5,1],"title":"opinion","labelExpr":"''+datum.value"}},
     "y2":{"field":"y2"},"detail":{"field":"g"}}},
   {"data":{"name":"d2"},"mark":{"type":"line","color":"#000","strokeWidth":4,"clip":true},
    "encoding":{"x":{"field":"t","type":"quantitative","scale":{"domain":[0,30],"nice":false},"axis":{"orient":"top","values":[0,10,20,30],"labels":false,"title":null}},
     "y":{"field":"y","type":"quantitative","scale":{"domain":[-1,1],"nice":false},"axis":{"orient":"right","values":[-1,-0.5,0,0.5,1],"labels":false,"title":null}},
     "detail":{"field":"i"}}}
  ],
  "resolve":{"axis":{"x":"independent","y":"independent"}}},
 {"width":149,"height":120,"title":{"text":"(e)","orient":"bottom"},
  "encoding":{"x":{"field":"t","type":"quantitative","scale":{"domain":[0,50],"nice":false},"axis":null},"y":{"field":"y","type":"quantitative","scale":{"domain":[-1,1],"nice":false},"axis":null}},
  "layer":[
   {"data":{"name":"e1"},"mark":{"type":"area","color":"#000","clip":true,"interpolate":"monotone"},
    "encoding":{"x":{"field":"t","type":"quantitative","scale":{"domain":[0,50],"nice":false},"axis":{"values":[0,10,20,30,40,50],"title":"time"}},
     "y":{"field":"y","type":"quantitative","scale":{"domain":[-1,1],"nice":false},"axis":{"values":[-1,-0.5,0,0.5,1],"title":"opinion","labelExpr":"''+datum.value"}},
     "y2":{"field":"y2"},"detail":{"field":"g"}}},
   {"data":{"name":"e2"},"mark":{"type":"line","color":"#000","strokeWidth":0.9,"clip":true,"interpolate":"monotone"},"encoding":{"detail":{"field":"i"}}},
   {"data":{"name":"e6"},"mark":{"type":"line","color":"#000","strokeWidth":2.5,"clip":true},"encoding":{}},
   {"data":{"name":"e4"},"mark":{"type":"line","color":"#8a8a8a","strokeWidth":2.5,"clip":true},"encoding":{"detail":{"field":"i"}}},
   {"data":{"name":"e4"},"mark":{"type":"line","color":"#000","strokeWidth":2.5,"strokeDash":[3,3],"clip":true},"encoding":{"detail":{"field":"i"}}},
   {"data":{"name":"e5"},"mark":{"type":"line","color":"#8a8a8a","strokeWidth":1,"strokeDash":[3,2],"clip":true,"interpolate":"monotone"},"encoding":{}},
   {"data":{"name":"e3"},"mark":{"type":"line","color":"#000","strokeWidth":4,"clip":true},
    "encoding":{"x":{"field":"t","type":"quantitative","scale":{"domain":[0,50],"nice":false},"axis":{"orient":"top","values":[0,10,20,30,40,50],"labels":false,"title":null}},
     "y":{"field":"y","type":"quantitative","scale":{"domain":[-1,1],"nice":false},"axis":{"orient":"right","values":[-1,-0.5,0,0.5,1],"labels":false,"title":null}},
     "detail":{"field":"i"}}}
  ],
  "resolve":{"axis":{"x":"independent","y":"independent"}}},
 {"width":149,"height":120,"title":{"text":"(f)","orient":"bottom"},
  "encoding":{"x":{"field":"t","type":"quantitative","scale":{"domain":[0,50],"nice":false},"axis":null},"y":{"field":"y","type":"quantitative","scale":{"domain":[-1,1],"nice":false},"axis":null}},
  "layer":[
   {"data":{"name":"f1"},"mark":{"type":"area","color":"#000","clip":true,"interpolate":"monotone"},
    "encoding":{"x":{"field":"t","type":"quantitative","scale":{"domain":[0,50],"nice":false},"axis":{"values":[0,10,20,30,40,50],"title":"time"}},
     "y":{"field":"y","type":"quantitative","scale":{"domain":[-1,1],"nice":false},"axis":{"values":[-1,-0.5,0,0.5,1],"title":"opinion","labelExpr":"''+datum.value"}},
     "y2":{"field":"y2"},"detail":{"field":"g"}}},
   {"data":{"name":"f3"},"mark":{"type":"line","color":"#8a8a8a","strokeWidth":0.9,"clip":true,"interpolate":"monotone"},"encoding":{"detail":{"field":"i"}}},
   {"data":{"name":"f2"},"mark":{"type":"line","color":"#000","strokeWidth":0.9,"clip":true,"interpolate":"monotone"},"encoding":{"detail":{"field":"i"}}},
   {"data":{"name":"f5"},"mark":{"type":"line","color":"#8a8a8a","strokeWidth":2.5,"clip":true},"encoding":{"detail":{"field":"i"}}},
   {"data":{"name":"f5"},"mark":{"type":"line","color":"#000","strokeWidth":2.5,"strokeDash":[3,3],"clip":true},"encoding":{"detail":{"field":"i"}}},
   {"data":{"name":"f4"},"mark":{"type":"line","color":"#000","strokeWidth":2.5,"clip":true},
    "encoding":{"x":{"field":"t","type":"quantitative","scale":{"domain":[0,50],"nice":false},"axis":{"orient":"top","values":[0,10,20,30,40,50],"labels":false,"title":null}},
     "y":{"field":"y","type":"quantitative","scale":{"domain":[-1,1],"nice":false},"axis":{"orient":"right","values":[-1,-0.5,0,0.5,1],"labels":false,"title":null}},
     "detail":{"field":"i"}}}
  ],
  "resolve":{"axis":{"x":"independent","y":"independent"}}}
]
}
